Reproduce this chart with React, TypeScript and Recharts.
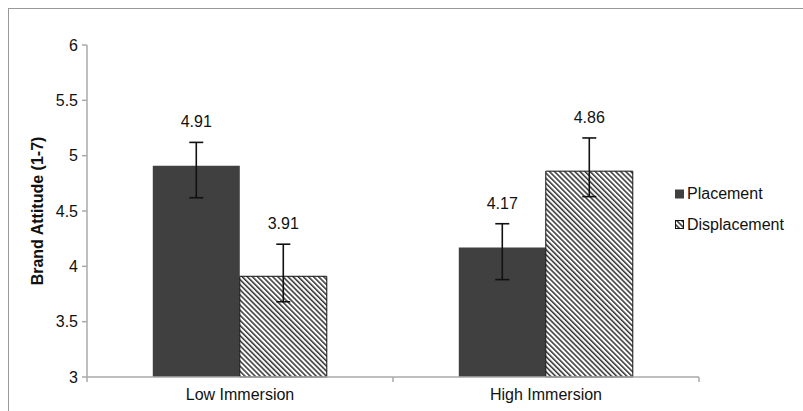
import React from "react";
import { BarChart, Bar, XAxis, YAxis, ErrorBar, LabelList, Legend } from "recharts";

const categories = ["Low Immersion", "High Immersion"];
const placement = [4.91, 4.17];
const displacement = [3.91, 4.86];
// [lower, upper] error distances
const placementErr = [
  [0.29, 0.21],
  [0.29, 0.215],
];
const displacementErr = [
  [0.23, 0.29],
  [0.23, 0.3],
];
const yTicks = [3, 3.5, 4, 4.5, 5, 5.5, 6];

const data = categories.map((name, i) => ({
  name,
  placement: placement[i],
  displacement: displacement[i],
  placementErr: placementErr[i],
  displacementErr: displacementErr[i],
}));

const FONT = '"Liberation Sans", Arial, Helvetica, sans-serif';
const AXIS = "#aaaaaa";
const DARK = "#404040";

const makeLabel = (errs: number[][]) => (props: any) => {
  const { x, y, width, height, value, index } = props;
  const ppu = height / (value - 3);
  const top = y - errs[index][1] * ppu;
  return (
    <text
      x={x + width / 2}
      y={top - 15}
      textAnchor="middle"
      fontSize={16}
      fontFamily={FONT}
      fill="#111"
    >
      {value}
    </text>
  );
};

// category label in the middle, tick marks on the category edges (Excel style)
const CategoryTick = (props: any) => {
  const { x, y, payload, index, width } = props;
  const half = payload && payload.offset ? payload.offset : width / categories.length / 2;
  const axisY = y - 6;
  return (
    <g>
      <line x1={x - half} y1={axisY} x2={x - half} y2={axisY + 5} stroke={AXIS} strokeWidth={1.5} />
      {index === categories.length - 1 && (
        <line x1={x + half} y1={axisY} x2={x + half} y2={axisY + 5} stroke={AXIS} strokeWidth={1.5} />
      )}
      <text x={x} y={y + 6} dy="0.71em" textAnchor="middle" fontSize={16} fontFamily={FONT} fill="#111">
        {payload.value}
      </text>
    </g>
  );
};

function LegendBox() {
  const rows = [
    { label: "Placement", hatch: false },
    { label: "Displacement", hatch: true },
  ];
  return (
    <div style={{ fontFamily: FONT, fontSize: 16, color: "#111" }}>
      {rows.map((r) => (
        <div key={r.label} style={{ display: "flex", alignItems: "center", height: 31 }}>
          <svg width={10} height={10} style={{ marginRight: 2 }}>
            {r.hatch ? (
              <rect x={0.5} y={0.5} width={8} height={8} fill="url(#hatch)" stroke="#111" strokeWidth={1} />
            ) : (
              <rect x={0} y={0.5} width={9} height={9} fill={DARK} />
            )}
          </svg>
          <span>{r.label}</span>
        </div>
      ))}
    </div>
  );
}

export default function App() {
  return (
    <div
      style={{
        position: "absolute",
        left: 8,
        top: 8,
        width: 794,
        height: 402,
        borderTop: "1px solid #999",
        borderLeft: "1px solid #999",
        background: "#fff",
      }}
    >
      <BarChart
        width={794}
        height={402}
        data={data}
        margin={{ top: 36, right: 104, left: 0, bottom: 0 }}
        barCategoryGap="21.5%"
        barGap={0}
        style={{ fontFamily: FONT }}
      >
        <defs>
          <pattern id="hatch" patternUnits="userSpaceOnUse" width={3.6} height={3.6} patternTransform="rotate(-45)">
            <rect width={3.6} height={3.6} fill="#fff" />
            <line x1={0.8} y1={0} x2={0.8} y2={3.6} stroke="#111" strokeWidth={1.3} />
          </pattern>
        </defs>
        <XAxis
          dataKey="name"
          height={34}
          axisLine={{ stroke: AXIS, strokeWidth: 1.5 }}
          tickLine={false}
          tickSize={0}
          tickMargin={6}
          tick={<CategoryTick />}
        />
        <YAxis
          domain={[3, 6]}
          ticks={yTicks}
          width={78}
          tickSize={5}
          tickMargin={4}
          axisLine={{ stroke: AXIS, strokeWidth: 1.5 }}
          tickLine={{ stroke: AXIS, strokeWidth: 1.5 }}
          tick={{ fontSize: 16, fill: "#111", fontFamily: FONT }}
          label={{
            value: "Brand Attitude (1-7)",
            angle: -90,
            position: "insideLeft",
            offset: 28,
            style: { textAnchor: "middle", fontWeight: "bold", fontSize: 16, fill: "#111", fontFamily: FONT },
          }}
        />
        <Legend
          layout="horizontal"
          verticalAlign="middle"
          align="center"
          content={() => <LegendBox />}
          wrapperStyle={{ left: 666, top: 169, width: 128, height: 62 }}
        />
        <Bar dataKey="placement" name="Placement" fill={DARK} isAnimationActive={false}>
          <ErrorBar dataKey="placementErr" width={7} stroke="#111" strokeWidth={1.6} />
          <LabelList dataKey="placement" content={makeLabel(placementErr)} />
        </Bar>
        <Bar
          dataKey="displacement"
          name="Displacement"
          fill="url(#hatch)"
          stroke="#111"
          strokeWidth={1}
          isAnimationActive={false}
        >
          <ErrorBar dataKey="displacementErr" width={7} stroke="#111" strokeWidth={1.6} />
          <LabelList dataKey="displacement" content={makeLabel(displacementErr)} />
        </Bar>
      </BarChart>
    </div>
  );
}
